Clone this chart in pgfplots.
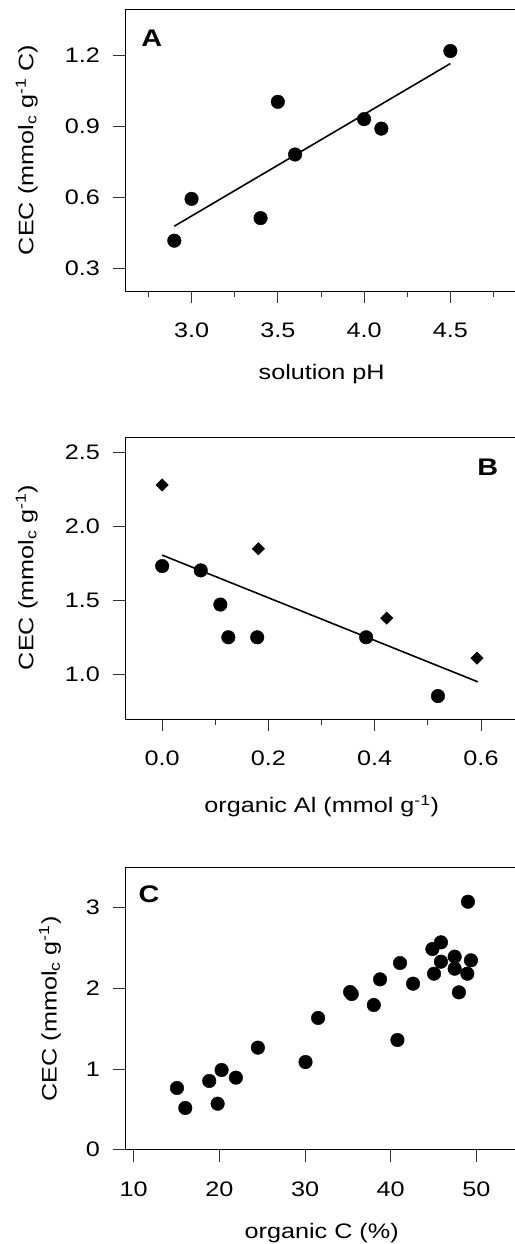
\documentclass[border=0pt]{standalone}
\usepackage{fontspec}
\setmainfont{Liberation Sans}[FakeStretch=1.2]
\usepackage{pgfplots}
\pgfplotsset{compat=1.18}
\newcommand{\lblfont}{\fontsize{21bp}{25bp}\selectfont}
\pgfplotsset{panel/.style={
  scale only axis, width=391.3bp, height=282bp, anchor=south west,
  axis line style={black, line width=0.9bp},
  tick align=outside, tick style={black!80, line width=0.9bp},
  major tick length=12.5bp, minor tick length=6.5bp,
  xtick pos=bottom, ytick pos=left,
  /pgf/number format/assume math mode=true,
  ticklabel style={font=\lblfont},
  xticklabel style={anchor=north, inner sep=0pt, yshift=-19.5bp},
  yticklabel style={anchor=east, inner sep=0pt, xshift=-12.8bp},
  clip=false,
}}
\begin{document}
\begin{tikzpicture}[every node/.style={font=\lblfont}]
% Panel A
\begin{axis}[panel, at={(125.3bp,953bp)},
  xmin=2.616, xmax=4.884, ymin=0.206, ymax=1.394,
  xtick={3,3.5,4,4.5}, xticklabels={3.0,3.5,4.0,4.5},
  minor xtick={2.75,3.25,3.75,4.25,4.75},
  ytick={0.3,0.6,0.9,1.2}, yticklabels={0.3,0.6,0.9,1.2}]
\addplot[line width=1.6bp] coordinates {(2.9,0.479)(4.5,1.164)};
\addplot[only marks, mark=*, mark size=6.8bp] coordinates {
(2.9,0.418)(3.0,0.594)(3.4,0.513)(3.5,1.003)(3.6,0.781)(4.0,0.93)(4.1,0.89)(4.5,1.217)};
\node[font=\fontsize{24bp}{28bp}\selectfont\bfseries] at (axis cs:2.77,1.27) {A};
\end{axis}
% Panel B
\begin{axis}[panel, at={(125.3bp,525bp)},
  xmin=-0.0694, xmax=0.667, ymin=0.699, ymax=2.604,
  xtick={0,0.2,0.4,0.6}, xticklabels={0.0,0.2,0.4,0.6},
  minor xtick={0.1,0.3,0.5},
  ytick={1,1.5,2,2.5}, yticklabels={1.0,1.5,2.0,2.5}]
\addplot[line width=1.6bp] coordinates {(0,1.806)(0.594,0.95)};
\addplot[only marks, mark=*, mark size=6.8bp] coordinates {
(0,1.732)(0.0726,1.703)(0.1095,1.472)(0.1245,1.251)(0.1789,1.251)(0.3838,1.251)(0.519,0.854)};
\addplot[only marks, mark=square*, mark size=4.4bp, mark options={rotate=45}] coordinates {
(0,2.28)(0.181,1.849)(0.4226,1.381)(0.5926,1.11)};
\node[font=\fontsize{24bp}{28bp}\selectfont\bfseries] at (axis cs:0.6126,2.40) {B};
\end{axis}
% Panel C
\begin{axis}[panel, at={(125.3bp,94.3bp)},
  xmin=9.02, xmax=54.7, ymin=0, ymax=3.496,
  xtick={10,20,30,40,50}, xticklabels={10,20,30,40,50},
  ytick={0,1,2,3}, yticklabels={0,1,2,3}]
\addplot[only marks, mark=*, mark size=6.8bp] coordinates {
(15.05,0.765)(16.02,0.517)(18.82,0.852)(19.80,0.570)(20.26,0.988)(21.93,0.893)
(24.50,1.265)(30.06,1.087)(31.53,1.633)(35.26,1.955)(35.46,1.93)(38.03,1.794)
(38.76,2.112)(40.79,1.36)(41.09,2.314)(42.61,2.058)(44.87,2.488)(45.06,2.182)
(45.87,2.571)(45.87,2.331)(47.47,2.393)(47.47,2.244)(47.97,1.951)(48.95,2.182)
(49.02,3.074)(49.37,2.348)};
\node[font=\fontsize{24bp}{28bp}\selectfont\bfseries] at (axis cs:11.78,3.17) {C};
\end{axis}
% axis labels
\node[anchor=base] at (321.7bp,864bp) {solution pH};
\node[anchor=base] at (321.7bp,431.3bp) {organic Al (mmol g\textsuperscript{-1})};
\node[anchor=base] at (321.7bp,5.7bp) {organic C (\%)};
\node[anchor=base, rotate=90] at (33.3bp,1094bp) {CEC (mmol\textsubscript{c} g\textsuperscript{-1} C)};
\node[anchor=base, rotate=90] at (33.3bp,666.5bp) {CEC (mmol\textsubscript{c} g\textsuperscript{-1})};
\node[anchor=base, rotate=90] at (56.7bp,235bp) {CEC (mmol\textsubscript{c} g\textsuperscript{-1})};
\pgfresetboundingbox
\useasboundingbox (0,0) rectangle (515bp,1244bp);
\end{tikzpicture}
\end{document}
